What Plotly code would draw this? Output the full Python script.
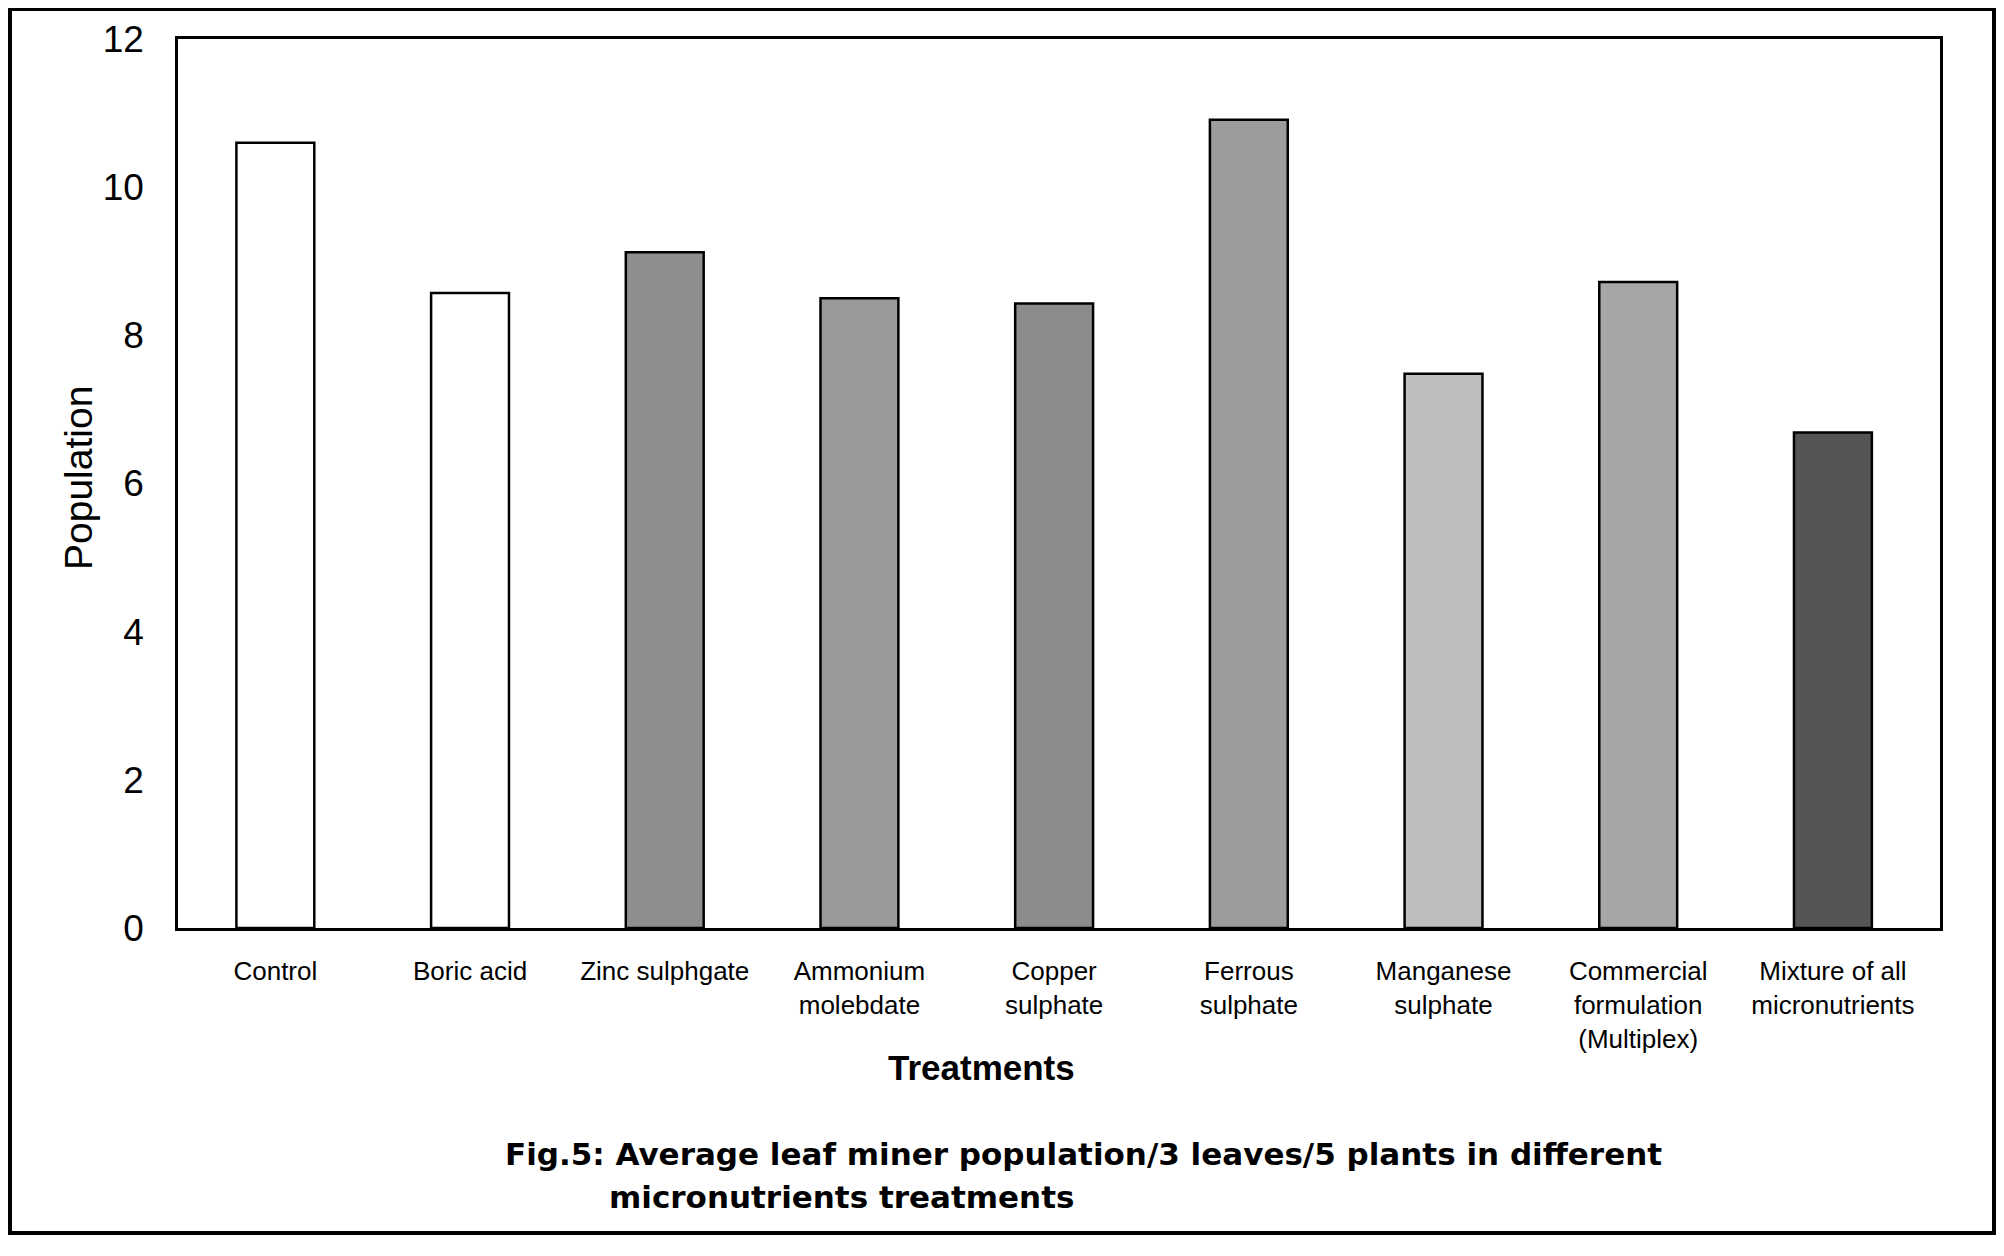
import plotly.graph_objects as go

# ---- data ----
treatments = ["Control", "Boric acid", "Zinc sulphgate", "Ammonium<br>molebdate",
              "Copper<br>sulphate", "Ferrous<br>sulphate", "Manganese<br>sulphate",
              "Commercial<br>formulation<br>(Multiplex)", "Mixture of all<br>micronutrients"]
population = [10.6, 8.57, 9.12, 8.5, 8.43, 10.91, 7.48, 8.72, 6.69]
bar_colors = ["#ffffff", "#ffffff", "#8e8e8e", "#9a9a9a", "#8c8c8c",
              "#9c9c9c", "#bebebe", "#a6a6a6", "#555555"]
y_ticks = [0, 2, 4, 6, 8, 10, 12]

# page body has an 8px margin, so the figure is drawn 8px in from the corner
OFF = 8
W, H = 2004 - OFF, 1256 - OFF
# plot area in screen pixels
X0, X1, Y0, Y1 = 178, 1940, 39, 928
L, R, T, B = X0 - OFF, (W + OFF) - X1, Y0 - OFF, (H + OFF) - Y1
pw, ph = X1 - X0, Y1 - Y0


def px(x):
    return (x - X0) / pw


def py(y):
    return (Y1 - y) / ph


fig = go.Figure()
fig.add_trace(go.Bar(
    x=treatments, y=population, width=0.4,
    marker=dict(color=bar_colors, line=dict(color="black", width=2.5)),
))

font = "Liberation Sans, Arial, Helvetica, sans-serif"
fig.update_layout(
    width=W, height=H,
    margin=dict(l=L, r=R, t=T, b=B),
    paper_bgcolor="white", plot_bgcolor="white",
    showlegend=False,
    font=dict(family=font, color="black"),
    xaxis=dict(
        type="category", range=[-0.5, 8.55],
        showline=True, linecolor="black", linewidth=2.5, mirror=True,
        showgrid=False, ticks="", tickfont=dict(size=26, family=font),
        ticklabelstandoff=18,
    ),
    yaxis=dict(
        range=[0, 12], tickvals=y_ticks,
        showline=True, linecolor="black", linewidth=2.5, mirror=True,
        showgrid=False, zeroline=False, ticks="",
        tickfont=dict(size=37, family=font), ticklabelstandoff=24,
    ),
)

annotations = [
    dict(text="Population", x=px(79), y=py(478), textangle=-90,
         font=dict(size=39, family=font)),
    dict(text="<b>Treatments</b>", x=px(981), y=py(1067),
         font=dict(size=35, family=font)),
    dict(text="<b>Fig.5: Average leaf miner population/3 leaves/5 plants in different</b>",
         x=px(503), y=py(1154), xanchor="left",
         font=dict(size=31, family="DejaVu Sans, sans-serif")),
    dict(text="<b>micronutrients treatments</b>",
         x=px(607), y=py(1197), xanchor="left",
         font=dict(size=31, family="DejaVu Sans, sans-serif")),
]
for a in annotations:
    a.update(xref="paper", yref="paper", showarrow=False)
    a.setdefault("xanchor", "center")
    a.setdefault("yanchor", "middle")
fig.update_layout(annotations=annotations)

fig.add_shape(type="rect", xref="paper", yref="paper",
              x0=px(10), x1=px(1994), y0=py(1233), y1=py(9),
              line=dict(color="black", width=4), fillcolor="rgba(0,0,0,0)")

fig.write_html("out.html")
